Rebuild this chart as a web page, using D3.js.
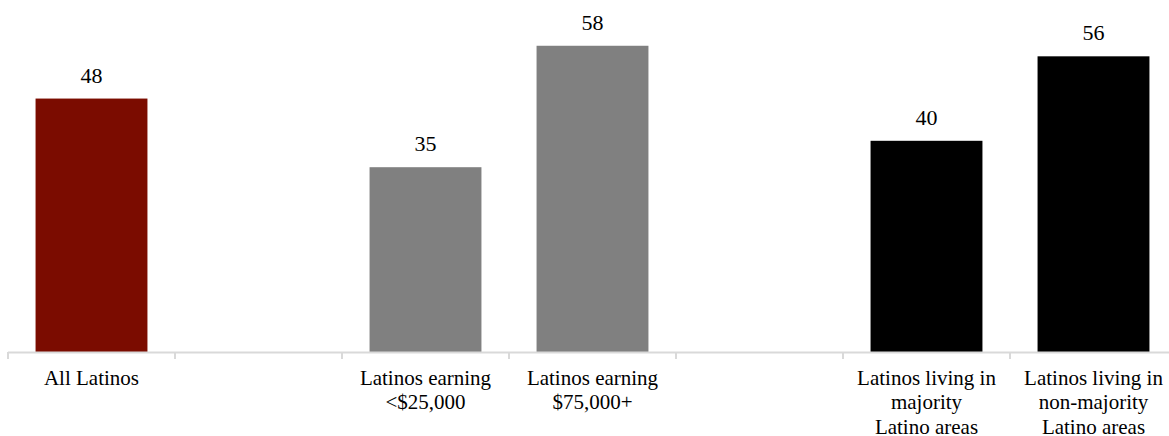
<!DOCTYPE html>
<html>
<head>
<meta charset="utf-8">
<script src="https://cdn.jsdelivr.net/npm/d3@7"></script>
<style>
  body { margin: 0; background: #fff; }
  text { font-family: "Liberation Serif", "DejaVu Serif", serif; }
</style>
</head>
<body>
<svg id="chart" width="1169" height="436"></svg>
<script>
const slots = ["all", "gap1", "lt25", "gt75", "gap2", "maj", "nonmaj"];
const categories = ["all", "lt25", "gt75", "maj", "nonmaj"];
const categoryLabels = [
  ["All Latinos"],
  ["Latinos earning", "<$25,000"],
  ["Latinos earning", "$75,000+"],
  ["Latinos living in", "majority", "Latino areas"],
  ["Latinos living in", "non-majority", "Latino areas"]
];
const values = [48, 35, 58, 40, 56];
const barColors = ["#7b0c00", "#808080", "#808080", "#000000", "#000000"];

const FONT = "'Liberation Serif', 'DejaVu Serif', serif";
const svg = d3.select("#chart");
const baseY = 352;
const x = d3.scaleBand().domain(slots).range([8, 1177]).padding(0);
const y = d3.scaleLinear().domain([0, 60]).range([baseY, 35.2]);
const bw = x.bandwidth() * 0.67;

const data = categories.map((c, i) => ({ key: c, value: values[i], lines: categoryLabels[i], color: barColors[i] }));

// bars
svg.selectAll("rect.bar").data(data).enter().append("rect")
  .attr("class", "bar")
  .attr("x", d => x(d.key) + (x.bandwidth() - bw) / 2)
  .attr("width", bw)
  .attr("y", d => y(d.value))
  .attr("height", d => baseY - y(d.value))
  .attr("fill", d => d.color);

// value labels
svg.selectAll("text.val").data(data).enter().append("text")
  .attr("class", "val")
  .attr("x", d => x(d.key) + x.bandwidth() / 2)
  .attr("y", d => y(d.value) - 16)
  .attr("text-anchor", "middle")
  .attr("font-family", FONT)
  .attr("font-size", 22)
  .attr("fill", "#000")
  .text(d => d.value);

// axis
const axisG = svg.append("g").attr("transform", `translate(0,${baseY})`);
axisG.append("line")
  .attr("x1", 8).attr("x2", 1177).attr("y1", 0.5).attr("y2", 0.5)
  .attr("stroke", "#d9d9d9").attr("stroke-width", 2);
const tickXs = slots.map(s => x(s)).concat([x(slots[slots.length - 1]) + x.bandwidth()]);
axisG.selectAll("line.tick").data(tickXs).enter().append("line")
  .attr("class", "tick")
  .attr("x1", d => d).attr("x2", d => d)
  .attr("y1", 0).attr("y2", 7)
  .attr("stroke", "#d9d9d9").attr("stroke-width", 2);

// category labels
const lab = svg.selectAll("text.cat").data(data).enter().append("text")
  .attr("class", "cat")
  .attr("text-anchor", "middle")
  .attr("font-family", FONT)
  .attr("font-size", 21)
  .attr("fill", "#000");
lab.selectAll("tspan").data(d => d.lines.map(l => ({ l, cx: x(d.key) + x.bandwidth() / 2 })))
  .enter().append("tspan")
  .attr("x", t => t.cx)
  .attr("y", (t, i) => 385 + i * 24.3)
  .text(t => t.l);
</script>
</body>
</html>
